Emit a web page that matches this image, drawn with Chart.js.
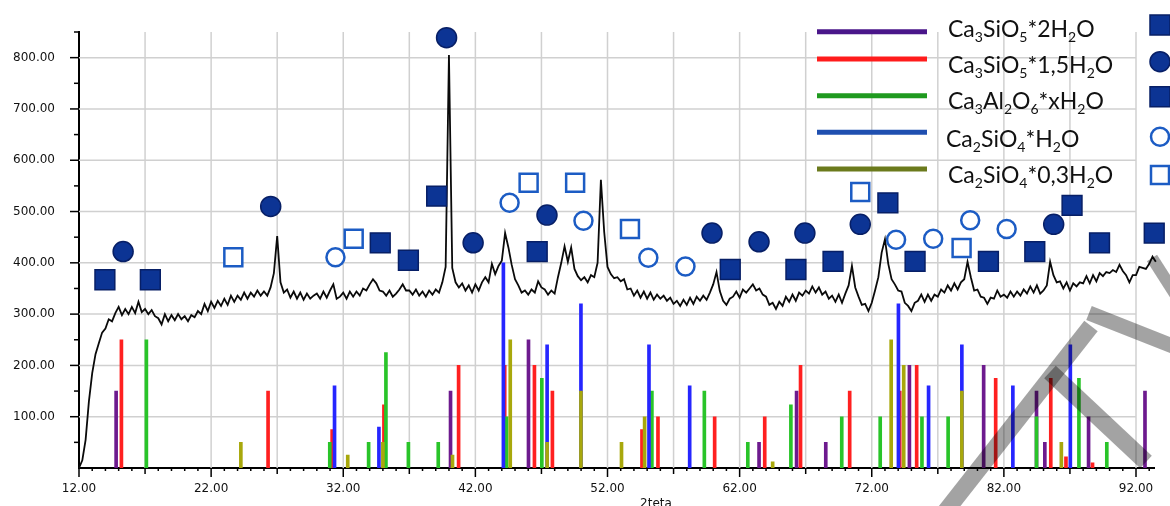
<!DOCTYPE html>
<html>
<head>
<meta charset="utf-8">
<script src="https://cdn.jsdelivr.net/npm/chart.js@4.4.1/dist/chart.umd.min.js"></script>
<style>
  html, body { margin: 0; padding: 0; background: #fff; }
  #wrap { width: 1170px; height: 506px; }
</style>
</head>
<body>
<div id="wrap"><canvas id="xrd" width="1170" height="506"></canvas></div>
<script>
// diffractogramme mesure : 2theta de 12 a 93.5 par pas de 0.25
const thetaStart = 12;
const thetaStep = 0.25;
const counts = [
  0, 15, 55, 130,      185, 222, 243, 264,      272, 290, 286, 302,      314, 298, 310, 300,
  314, 302, 324, 304,  310, 300, 308, 296,      292, 280, 300, 286,      298, 288, 300, 290,
  296, 286, 298, 294,  306, 300, 320, 306,      324, 312, 326, 316,      330, 318, 336, 324,
  336, 328, 342, 330,  342, 334, 346, 336,      344, 336, 352, 380,      452, 362, 342, 348,
  332, 344, 330, 342,  328, 340, 330, 336,      340, 330, 344, 332,      346, 358, 330, 334,
  342, 330, 344, 334,  344, 336, 350, 346,      358, 368, 360, 346,      344, 336, 346, 334,
  340, 348, 358, 346,  346, 338, 348, 336,      344, 334, 346, 338,      348, 342, 362, 392,
  805, 390, 362, 352,  360, 346, 356, 342,      358, 346, 362, 372,      362, 398, 378, 394,
  404, 458, 430, 396,  368, 356, 342, 346,      338, 348, 342, 364,      352, 348, 338, 346,
  340, 372, 400, 432,  402, 430, 388, 374,      366, 372, 362, 376,      372, 400, 562, 460,
  392, 378, 370, 372,  364, 368, 348, 350,      336, 346, 332, 344,      330, 342, 328, 338,
  330, 336, 326, 332,  320, 326, 316, 328,      318, 332, 320, 334,      326, 336, 328, 342,
  358, 382, 345, 326,  318, 330, 334, 344,      332, 348, 342, 350,      358, 346, 350, 338,
  334, 318, 322, 310,  324, 316, 334, 324,      338, 326, 342, 336,      346, 340, 354, 342,
  352, 338, 344, 330,  336, 324, 338, 322,      340, 356, 394, 352,      334, 318, 320, 306,
  322, 346, 372, 420,  446, 398, 368, 358,      346, 344, 322, 316,      306, 322, 326, 338,
  324, 338, 326, 338,  334, 348, 342, 356,      346, 360, 348, 362,      368, 402, 372, 346,
  348, 334, 332, 320,  332, 330, 346, 334,      338, 332, 344, 334,      344, 336, 348, 340,
  354, 342, 356, 340,  346, 356, 402, 376,      362, 364, 350, 362,      346, 360, 354, 362,
  360, 374, 360, 376,  364, 380, 374, 382,      380, 386, 382, 396,      384, 376, 362, 376,
  376, 392, 390, 388,  398, 412, 402
];

// raies de reference [2theta, intensite]
const c3sH2O2 = [[14.81,150],[40.12,150],[46.02,250],[63.47,50],[66.31,150],[68.52,50],
  [74.85,200],[80.47,200],[84.47,150],[85.10,50],[88.41,100],[92.68,150]];
const c3sH2O15 = [[15.21,250],[26.31,150],[31.16,75],[35.08,123],[40.73,200],[44.22,200],
  [46.47,200],[47.83,150],[54.61,75],[55.82,100],[60.11,100],[63.90,100],[66.61,200],
  [70.33,150],[74.12,150],[75.40,200],[81.38,175],[85.55,175],[86.70,22],[88.71,10]];
const c3aHx = [[17.10,250],[30.98,50],[33.92,50],[35.23,225],[36.93,50],[39.19,50],
  [44.36,100],[47.03,175],[55.36,150],[59.33,150],[62.62,50],[65.88,123],[69.73,100],
  [72.64,100],[75.80,100],[77.78,100],[84.47,100],[87.68,175],[89.79,50]];
const c2sH2O = [[31.34,160],[34.70,80],[44.12,400],[47.43,240],[49.99,320],[55.14,240],
  [58.22,160],[74.02,320],[76.30,160],[78.82,240],[82.68,160],[87.03,240]];
const c2sH2O03 = [[24.25,50],[32.34,25],[35.00,50],[40.27,25],[44.64,250],[47.43,50],
  [49.99,150],[53.06,50],[54.81,100],[64.50,12],[73.47,250],[74.42,200],[78.82,150],[86.35,50]];

// reperes poses au-dessus des pics [2theta, hauteur]
const markFilledSquare = [[13.96,367],[17.40,367],[34.80,439],[36.93,405],[39.07,530],
  [46.68,422],[61.29,387],[66.26,387],[69.07,403],[73.22,517],[75.28,403],[80.83,403],
  [84.34,422],[87.16,512],[89.24,439],[93.38,458]];
const markFilledCircle = [[15.34,422],[26.51,510],[39.82,839],[41.83,439],[47.42,493],
  [59.91,458],[63.47,441],[66.94,458],[71.13,475],[85.77,475]];
const markOpenCircle = [[31.41,411],[44.59,517],[50.18,482],[55.09,410],[57.90,393],
  [73.84,445],[76.65,447],[79.45,483],[82.21,466]];
const markOpenSquare = [[23.68,411],[32.79,447],[46.03,556],[49.55,556],[53.70,466],
  [71.13,538],[78.80,429]];

const legendLabels = ['Ca_3SiO_5*2H_2O', 'Ca_3SiO_5*1,5H_2O', 'Ca_3Al_2O_6*xH_2O', 'Ca_2SiO_4*H_2O', 'Ca_2SiO_4*0,3H_2O'];
const legendLineColors = ['#4a168a', '#ff1c1c', '#1f9a1f', '#1f4fb0', '#6b7a1c'];
const legendMarkers = ['fsq', 'fci', 'fsq', 'oci', 'osq'];
const stickColors = ['#6d1a8e', '#ff2020', '#29c429', '#2626ff', '#a8a80c'];

const NAVY = '#0c3494';
const NAVY_EDGE = '#071f66';
const OPEN_BLUE = '#1c5cc4';
const GRID = '#d0d0d0';

const toXY = arr => arr.map(p => ({ x: p[0], y: p[1] }));
const trace = counts.map((c, i) => ({ x: thetaStart + i * thetaStep, y: c }));

function sticks(label, arr, color, order) {
  return {
    type: 'bar', label, data: toXY(arr), backgroundColor: color,
    barThickness: 3, grouped: false, borderWidth: 0, order
  };
}

function drawMarker(ctx, kind, px, py) {
  ctx.beginPath();
  if (kind === 'fsq' || kind === 'osq') {
    const h = kind === 'fsq' ? 10 : 9;
    ctx.rect(px - h, py - h, 2 * h, 2 * h);
  } else {
    ctx.arc(px, py, kind === 'fci' ? 10 : 9, 0, Math.PI * 2);
  }
  if (kind[0] === 'f') {
    ctx.fillStyle = NAVY; ctx.fill();
    ctx.lineWidth = 1.5; ctx.strokeStyle = NAVY_EDGE; ctx.stroke();
  } else {
    ctx.fillStyle = '#fff'; ctx.fill();
    ctx.lineWidth = 2.5; ctx.strokeStyle = OPEN_BLUE; ctx.stroke();
  }
}

function drawFormula(ctx, text, px, py, size) {
  let cx = px;
  for (let i = 0; i < text.length; i++) {
    let ch = text[i];
    let sub = false;
    if (ch === '_') { sub = true; ch = text[++i]; }
    ctx.font = (sub ? Math.round(size * 0.62) : size) + 'px Lato';
    ctx.fillText(ch, cx, sub ? py + 5 : py);
    cx += ctx.measureText(ch).width;
  }
}

const decor = {
  id: 'decor',
  beforeDatasetsDraw(chart) {
    // quadrillage : verticales tous les 5 degres, horizontales tous les 100
    const { ctx, chartArea: a, scales: { x, y } } = chart;
    ctx.save();
    ctx.strokeStyle = GRID;
    ctx.lineWidth = 1.5;
    for (let v = 17; v <= 92; v += 5) {
      const px = x.getPixelForValue(v);
      ctx.beginPath(); ctx.moveTo(px, a.top); ctx.lineTo(px, a.bottom); ctx.stroke();
    }
    const right = x.getPixelForValue(92);
    for (let v = 100; v <= 800; v += 100) {
      const py = y.getPixelForValue(v);
      ctx.beginPath(); ctx.moveTo(a.left, py); ctx.lineTo(right, py); ctx.stroke();
    }
    ctx.restore();
  },
  afterDraw(chart) {
    const { ctx, scales: { x, y } } = chart;
    ctx.save();
    // petites graduations
    ctx.strokeStyle = '#000';
    ctx.lineWidth = 1.5;
    for (let v = 50; v <= 850; v += 50) {
      const py = y.getPixelForValue(v);
      const len = v % 100 === 0 ? 9 : 5;
      ctx.beginPath(); ctx.moveTo(x.left - len, py); ctx.lineTo(x.left, py); ctx.stroke();
    }
    for (let v = 12; v <= 93; v++) {
      const px = x.getPixelForValue(v);
      const len = (v - 12) % 10 === 0 ? 9 : ((v - 12) % 5 === 0 ? 6 : 3);
      ctx.beginPath(); ctx.moveTo(px, y.bottom); ctx.lineTo(px, y.bottom + len); ctx.stroke();
    }

    // legende
    ctx.textAlign = 'left';
    ctx.textBaseline = 'alphabetic';
    const lineY = [31.7, 59, 95.7, 132.3, 169];
    const textY = [36.7, 72.7, 109, 147, 183.3];
    const markY = [25, 61.7, 96.7, 136.7, 175];
    legendLabels.forEach((lab, i) => {
      ctx.strokeStyle = legendLineColors[i];
      ctx.lineWidth = 5;
      ctx.beginPath(); ctx.moveTo(817, lineY[i]); ctx.lineTo(927, lineY[i]); ctx.stroke();
      ctx.fillStyle = '#111';
      drawFormula(ctx, lab, i === 3 ? 946 : 948, textY[i], 23);
      drawMarker(ctx, legendMarkers[i], 1160, markY[i]);
    });

    // titre de l'axe
    ctx.fillStyle = '#111';
    ctx.font = '12px "DejaVu Sans"';
    ctx.textAlign = 'center';
    ctx.fillText('2teta', 656, 507);

    // filigrane
    ctx.strokeStyle = 'rgba(0,0,0,0.36)';
    ctx.lineCap = 'butt';
    const bands = [[[945, 512], [1091, 326], 17], [[1050, 372], [1146, 462], 17],
      [[1089, 313], [1175, 347], 15], [[1152, 258], [1175, 294], 12]];
    bands.forEach(([a, b, w]) => {
      ctx.lineWidth = w;
      ctx.beginPath(); ctx.moveTo(a[0], a[1]); ctx.lineTo(b[0], b[1]); ctx.stroke();
    });
    ctx.restore();
  }
};

const tickFont = { family: 'DejaVu Sans', size: 12 };

new Chart(document.getElementById('xrd'), {
  type: 'scatter',
  data: {
    datasets: [
      { type: 'scatter', data: toXY(markFilledSquare), pointStyle: 'rect', pointRadius: 14,
        backgroundColor: NAVY, borderColor: NAVY_EDGE, borderWidth: 1.5, order: 0, clip: false },
      { type: 'scatter', data: toXY(markFilledCircle), pointStyle: 'circle', pointRadius: 10,
        backgroundColor: NAVY, borderColor: NAVY_EDGE, borderWidth: 1.5, order: 0, clip: false },
      { type: 'scatter', data: toXY(markOpenCircle), pointStyle: 'circle', pointRadius: 9,
        backgroundColor: '#fff', borderColor: OPEN_BLUE, borderWidth: 2.5, order: 0, clip: false },
      { type: 'scatter', data: toXY(markOpenSquare), pointStyle: 'rect', pointRadius: 12.7,
        backgroundColor: '#fff', borderColor: OPEN_BLUE, borderWidth: 2.5, order: 0, clip: false },
      { type: 'line', data: trace, borderColor: '#0a0a0a', borderWidth: 1.8, pointRadius: 0,
        tension: 0, order: 1, clip: false },
      sticks('Ca2SiO4*0,3H2O', c2sH2O03, stickColors[4], 2),
      sticks('Ca2SiO4*H2O', c2sH2O, stickColors[3], 3),
      sticks('Ca3Al2O6*xH2O', c3aHx, stickColors[2], 4),
      sticks('Ca3SiO5*1,5H2O', c3sH2O15, stickColors[1], 5),
      sticks('Ca3SiO5*2H2O', c3sH2O2, stickColors[0], 6)
    ]
  },
  options: {
    responsive: false,
    animation: false,
    layout: { padding: { top: 32, right: 11, left: 0, bottom: 0 } },
    plugins: { legend: { display: false }, tooltip: { enabled: false } },
    scales: {
      x: {
        type: 'linear', min: 12, max: 93.4, offset: false,
        afterFit: s => { s.height = 38; },
        border: { color: '#000', width: 2 },
        grid: { display: false, drawTicks: false },
        ticks: {
          stepSize: 1, autoSkip: false, maxRotation: 0, includeBounds: false,
          padding: 14, color: '#111', font: tickFont,
          callback: v => ((v - 12) % 10 === 0 ? v.toFixed(2) : '')
        }
      },
      y: {
        type: 'linear', min: 0, max: 850,
        afterFit: s => { s.width = 79; },
        border: { color: '#000', width: 2 },
        grid: { display: false, drawTicks: false },
        ticks: {
          stepSize: 100, padding: 24, color: '#111', font: tickFont,
          callback: v => (v > 0 && v <= 800 ? v.toFixed(2) : '')
        }
      }
    }
  },
  plugins: [decor]
});
</script>
</body>
</html>
